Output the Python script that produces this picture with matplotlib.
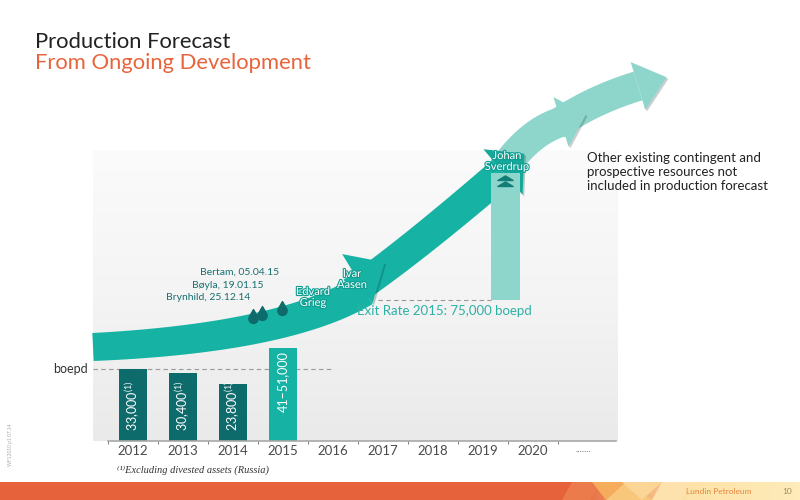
import matplotlib
matplotlib.use("Agg")
import matplotlib.pyplot as plt
import matplotlib.patheffects as pe
import numpy as np
from matplotlib.colors import LinearSegmentedColormap
from matplotlib.patches import Polygon
from matplotlib.path import Path
from matplotlib.transforms import Affine2D

# ---- data --------------------------------------------------------------
YEARS = ["2012", "2013", "2014", "2015", "2016", "2017", "2018", "2019", "2020", "......."]
ACTUAL = [33000, 30400, 23800]          # boepd, excl. Russia
ACTUAL_LABELS = ["33,000$^{(1)}$", "30,400$^{(1)}$", "23,800$^{(1)}$"]
GUIDE_2015 = 46000                      # mid of 41-51,000 guidance
GUIDE_LABEL = "41\u201351,000"
EXIT_RATE = 75000
SVERDRUP_TOP = 152000
SVERDRUP_YEAR = "2019"
STARTUPS = ["Bertam, 05.04.15", "B\u00f8yla, 19.01.15", "Brynhild, 25.12.14"]

# ---- style ---------------------------------------------------------------
DARK = "#0e6b6c"
TEAL = "#16b3a4"
LIGHT = "#8ed6cc"
ORANGE = "#e8643c"
GREY = "#9a9a9a"
Y_FLOOR = -10800      # value at the drawn baseline
Y_TOP = 166300

plt.rcParams["font.family"] = ["Lato", "DejaVu Sans"]
plt.rcParams["mathtext.fontset"] = "custom"
plt.rcParams["mathtext.rm"] = "Lato"
plt.rcParams["mathtext.default"] = "regular"

fig = plt.figure(figsize=(8, 5), dpi=100)
px = Affine2D().scale(1 / 800, -1 / 500).translate(0, 1) + fig.transFigure

ax = fig.add_axes([93 / 800, 59 / 500, 525 / 800, 291 / 500])
xlim = (-0.8, 9.7)

# soft grey panel behind the chart
panel = LinearSegmentedColormap.from_list("panel", ["#eaeaea", "#f4f4f4", "#fbfbfb"])
ax.imshow(np.linspace(0, 1, 256).reshape(-1, 1), cmap=panel, origin="lower",
          extent=(xlim[0], xlim[1], Y_FLOOR, Y_TOP), aspect="auto", zorder=0)

x = np.arange(len(YEARS))
hist_x = x[:4]
vals = np.array(ACTUAL + [GUIDE_2015])
ax.bar(hist_x, vals - Y_FLOOR, bottom=Y_FLOOR, width=0.56,
       color=[DARK, DARK, DARK, TEAL], zorder=2)

for xi, lab, off in zip(hist_x, ACTUAL_LABELS + [GUIDE_LABEL], [7, 7, 7, 21]):
    ax.annotate(lab, xy=(xi, Y_FLOOR), xytext=(0, off), textcoords="offset points",
                rotation=90, ha="center", va="bottom", color="white",
                fontsize=9, zorder=6)

# reference lines
ax.hlines(ACTUAL[0], xlim[0], 3.95, colors=GREY, linestyles=(0, (4, 3)), lw=0.8, zorder=1)
ax.annotate("boepd", xy=(xlim[0], ACTUAL[0]), xytext=(-4, 0), textcoords="offset points",
            ha="right", va="center", fontsize=9, color="#333333", annotation_clip=False)

sv_x = YEARS.index(SVERDRUP_YEAR) + 0.44
ax.hlines(EXIT_RATE, 4.9, sv_x - 0.29, colors=GREY, linestyles=(0, (4, 3)), lw=0.8, zorder=1)
ax.annotate("Exit Rate 2015: 75,000 boepd", xy=(6.22, EXIT_RATE), xytext=(0, -8),
            textcoords="offset points", ha="center", va="center", fontsize=9.5,
            color="#2db1a5", zorder=6)

# Johan Sverdrup bar
ax.bar([sv_x], [SVERDRUP_TOP - EXIT_RATE], bottom=EXIT_RATE, width=0.58, color=LIGHT, zorder=4)


# ---- curved growth arrow ---------------------------------------------------
def band(p0, p1, p2, w0, w1, n=80):
    p0, p1, p2 = map(np.asarray, (p0, p1, p2))
    t = np.linspace(0, 1, n)[:, None]
    pts = (1 - t) ** 2 * p0 + 2 * (1 - t) * t * p1 + t ** 2 * p2
    d = 2 * (1 - t) * (p1 - p0) + 2 * t * (p2 - p1)
    d = d / np.linalg.norm(d, axis=1, keepdims=True)
    nrm = np.column_stack([d[:, 1], -d[:, 0]])
    w = (w0 + (w1 - w0) * t[:, 0])[:, None] / 2
    poly = np.vstack([pts + nrm * w, (pts - nrm * w)[::-1]])
    return poly, pts[-1], d[-1]


def head(end, d, back, depth, shift=0.0):
    up = np.array([d[1], -d[0]])
    base = end + up * shift
    return np.array([base + up * back / 2, base + d * depth, base - up * back / 2])


shadow = [pe.SimplePatchShadow(offset=(1.2, -1.2), alpha=0.25), pe.Normal()]


def add(poly, color, z, fx=None):
    ax.add_patch(Polygon(poly, closed=True, facecolor=color, edgecolor="none",
                         transform=px, clip_on=False, zorder=z, path_effects=fx))


s1, e1, d1 = band((93, 347), (285, 338), (364, 290), 28, 33)
s2, e2, d2 = band((352, 292), (410, 252), (503, 172), 30, 32)
s3, e3, d3 = band((500, 174), (528, 132), (561, 122), 30, 30)
s4, e4, d4 = band((556, 125), (592, 100), (638, 86), 30, 30)

add(s4, LIGHT, 3.0)
add(head(e4, d4, 50, 30), LIGHT, 3.05, shadow)
add(s3, LIGHT, 3.1)
add(head(e3, d3, 52, 26), LIGHT, 3.2, shadow)
add(s2, TEAL, 3.3)
add(s1, TEAL, 3.4)
add(head(e1, d1, 58, 32, shift=13), TEAL, 3.45, shadow)
add(head(e2, d2, 60, 28), "#12a99b", 3.5, shadow)

# oil drops for the three start-ups
th = np.radians(np.linspace(30, -210, 40))
drop = Path(np.vstack([[0, 0.75], np.column_stack([0.5 * np.cos(th), -0.25 + 0.5 * np.sin(th)]), [0, 0.75]]),
            closed=True)
ax.plot([253, 262, 282], [316, 313, 308], ls="none", marker=drop, ms=10, color="#0d6b6b",
        transform=px, clip_on=False, zorder=5)

for (tx, ty), s in zip([(200, 272), (192, 285), (166, 298)], STARTUPS):
    ax.text(tx, ty, s, transform=px, ha="left", va="center", fontsize=7.5,
            color="#17706f", zorder=6)

halo = [pe.withStroke(linewidth=1.6, foreground="#0f9d90")]
ax.text(313, 297, "Edvard\nGrieg", transform=px, ha="center", va="center", fontsize=8,
        color="white", linespacing=1.0, path_effects=halo, zorder=6)
ax.text(352, 279, "Ivar\nAasen", transform=px, ha="center", va="center", fontsize=8,
        color="white", linespacing=1.0, path_effects=halo, zorder=6)
ax.text(507, 161, "Johan\nSverdrup", transform=px, ha="center", va="center", fontsize=8,
        color="white", linespacing=1.0, path_effects=halo, zorder=6)

# double chevron icon on the Sverdrup bar
chev = Path([(-1, 0), (0, 0.6), (1, 0), (-1, 0)], closed=True)
ax.plot([505, 505], [180, 186], ls="none", marker=chev, ms=11, color="#127c76",
        transform=px, clip_on=False, zorder=5)

# ---- axes cosmetics ------------------------------------------------------
ax.set_xlim(*xlim)
ax.set_ylim(Y_FLOOR, Y_TOP)
for side in ("top", "right", "left"):
    ax.spines[side].set_visible(False)
ax.spines["bottom"].set_color("#a8a8a8")
ax.spines["bottom"].set_linewidth(1.2)
ax.spines["bottom"].set_bounds(-0.5, 9.65)
ax.set_yticks([])
ax.set_xticks(x)
ax.set_xticklabels(YEARS, fontsize=9.5, color="#4a4a4a")
ax.set_xticks(np.arange(-0.5, 9, 1), minor=True)
ax.tick_params(axis="x", which="major", length=0, pad=3)
ax.tick_params(axis="x", which="minor", length=2, color="#666666")
ax.get_xticklabels()[-1].set_fontsize(7)

# ---- slide text ----------------------------------------------------------
fig.text(35 / 800, 1 - 42 / 500, "Production Forecast", fontsize=15.8, color="#222222", va="center")
fig.text(35 / 800, 1 - 63 / 500, "From Ongoing Development", fontsize=15.8, color=ORANGE, va="center")
fig.text(587 / 800, 1 - 172 / 500,
         "Other existing contingent and\nprospective resources not\nincluded in production forecast",
         fontsize=9.5, color="#222222", va="center", ha="left", linespacing=1.2)
fig.text(117 / 800, 1 - 470 / 500, "\u207d\u00b9\u207eExcluding divested assets (Russia)",
         fontsize=7.5, style="italic", color="#333333", va="center",
         family=["Liberation Serif", "DejaVu Serif"])
fig.text(11 / 800, 1 - 445 / 500, "WF12010 p1 07.14", fontsize=3.5, color="#aaaaaa",
         rotation=90, ha="center", va="center")

# ---- footer band -----------------------------------------------------------
axf = fig.add_axes([0, 0, 1, 18 / 500])
foot = LinearSegmentedColormap.from_list(
    "foot", [(0, "#e5623a"), (577 / 800, "#e5623a"), (690 / 800, "#fde3a8"), (1, "#fdebb9")])
axf.imshow(np.linspace(0, 1, 800).reshape(1, -1), cmap=foot, extent=(0, 800, 18, 0), aspect="auto")
for pts, c in [([(572, 0), (602, 0), (590, 18), (562, 18)], "#eb7b4b"),
               ([(592, 0), (626, 0), (606, 18)], "#f5ad5c"),
               ([(606, 18), (626, 0), (652, 18)], "#f9c77c"),
               ([(622, 0), (662, 0), (642, 18)], "#fbd595"),
               ([(652, 18), (662, 0), (692, 0), (682, 18)], "#fde2ad")]:
    axf.add_patch(Polygon(pts, closed=True, facecolor=c, edgecolor="none"))
axf.text(686, 9, "Lundin Petroleum", fontsize=6, color="#e8843f", va="center", ha="left")
axf.text(787, 9, "10", fontsize=6, color="#9c8a60", va="center", ha="center")
axf.set_xlim(0, 800)
axf.set_ylim(18, 0)
axf.axis("off")

fig.savefig("out.png", dpi=100)
